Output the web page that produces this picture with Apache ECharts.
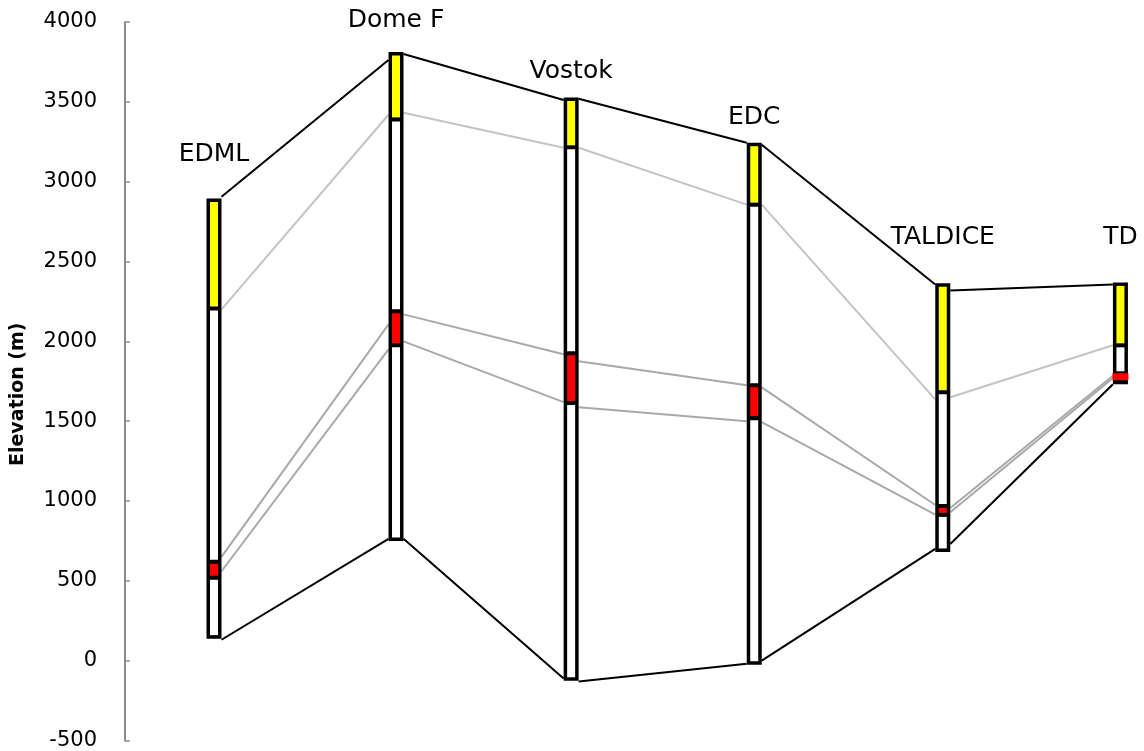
<!DOCTYPE html>
<html>
<head>
<meta charset="utf-8">
<script src="https://cdn.jsdelivr.net/npm/echarts@6/dist/echarts.min.js"></script>
<style>
  html, body { margin: 0; padding: 0; background: #fff; }
  #chart { width: 1144px; height: 751px; }
</style>
</head>
<body>
<div id="chart"></div>
<script>
// cores along the transect
const cores = ['EDML', 'Dome F', 'Vostok', 'EDC', 'TALDICE', 'TD'];
const coreX = [0, 1.004, 1.97, 2.98, 4.02, 5];

// elevations of each core (m)
const topElev = [2895, 3812, 3527, 3244, 2363, 2369];
const yellowBase = [2205, 3390, 3215, 2856, 1681, 1975];
const redTop = [619, 2188, 1925, 1725, 969, 1800];
const redBase = [519, 1975, 1613, 1519, 913, 1756];
const bottomElev = [138, 750, -125, -25, 681, 1731];
const labelElev = [3169, 4012, 3687, 3400, 2650, 2650];

// links between neighbouring cores: [left end, right end]
const outlineTop = [[2906, 3762], [3800, 3512], [3519, 3244], [3231, 2356], [2319, 2356]];
const outlineBottom = [[131, 763], [763, -112], [-131, -19], [0, 700], [731, 1731]];
const yellowLink = [[2200, 3419], [3431, 3212], [3212, 2856], [2856, 1637], [1650, 1975]];
const redTopLink = [[650, 2106], [2169, 1919], [1875, 1725], [1712, 975], [956, 1785]];
const redBaseLink = [[560, 1950], [2000, 1619], [1587, 1500], [1494, 915], [930, 1770]];

const yTicks = { min: -500, max: 4000, interval: 500 };

const chart = echarts.init(document.getElementById('chart'));

// build link items: [x1, v1, x2, v2, kind]
const linkData = [];
[outlineTop, outlineBottom, yellowLink, redTopLink, redBaseLink].forEach((set, k) => {
  set.forEach((pair, i) => {
    const kind = k < 2 ? 0 : (k === 2 ? 1 : 2);
    linkData.push([coreX[i], pair[0], coreX[i + 1], pair[1], kind]);
  });
});

const coreData = cores.map((c, i) => [coreX[i], topElev[i], yellowBase[i], redTop[i], redBase[i], bottomElev[i]]);
const labelData = cores.map((c, i) => [coreX[i], labelElev[i], i]);

const linkColors = ['#000000', '#c4c4c4', '#a9a9a9'];
const halfW = 7.5;

const option = {
  animation: false,
  backgroundColor: '#ffffff',
  grid: { left: 125, right: 0, top: 22, bottom: 9 },
  xAxis: { type: 'value', min: -0.491, max: 5.13, show: false },
  yAxis: {
    type: 'value',
    min: yTicks.min,
    max: yTicks.max,
    interval: yTicks.interval,
    name: 'Elevation (m)',
    nameLocation: 'middle',
    nameRotate: 90,
    nameGap: 97,
    nameTextStyle: { fontFamily: 'DejaVu Sans', fontWeight: 'bold', fontSize: 19, color: '#000', padding: [0, 26, 0, 0] },
    axisLine: { show: true, onZero: false, lineStyle: { color: '#8c8c8c', width: 2 } },
    axisTick: { show: true, inside: true, length: 5, lineStyle: { color: '#8c8c8c', width: 1.5 } },
    axisLabel: { margin: 28, fontFamily: 'DejaVu Sans', fontSize: 21, color: '#000', formatter: v => String(v) },
    splitLine: { show: false }
  },
  series: [
    {
      type: 'custom',
      name: 'links',
      z: 1,
      encode: { x: [0, 2], y: [1, 3] },
      data: linkData,
      renderItem: (params, api) => {
        const p1 = api.coord([api.value(0), api.value(1)]);
        const p2 = api.coord([api.value(2), api.value(3)]);
        const kind = api.value(4);
        return {
          type: 'line',
          shape: { x1: p1[0] + halfW, y1: p1[1], x2: p2[0] - halfW, y2: p2[1] },
          style: { stroke: linkColors[kind], lineWidth: 2 }
        };
      }
    },
    {
      type: 'custom',
      name: 'cores',
      z: 3,
      encode: { x: 0, y: [1, 5] },
      data: coreData,
      renderItem: (params, api) => {
        const x = api.value(0);
        const pTop = api.coord([x, api.value(1)]);
        const yYb = api.coord([x, api.value(2)])[1];
        const yRt = api.coord([x, api.value(3)])[1];
        const yRb = api.coord([x, api.value(4)])[1];
        const yBot = api.coord([x, api.value(5)])[1];
        const cx = pTop[0], yTop = pTop[1];
        const b = 3.5, d = 2;
        const rect = (x0, y0, w, h, fill) => ({
          type: 'rect',
          shape: { x: x0, y: y0, width: w, height: Math.max(h, 0) },
          style: { fill: fill }
        });
        const inner = (y0, y1, fill) => rect(cx - halfW + b, y0, 2 * (halfW - b), y1 - y0, fill);
        const children = [
          rect(cx - halfW, yTop, 2 * halfW, yBot - yTop, '#000'),
          inner(yTop + b, yYb - d, '#ffff00'),
          inner(yYb + d, yRt - d, '#ffffff'),
          inner(yRb + d, yBot - b, '#ffffff')
        ];
        // thin red bands cover the full core width
        if (yRb - yRt < 8) {
          children.push(rect(cx - halfW - 0.5, yRt, 2 * halfW + 1, yRb - yRt, '#ff0000'));
        } else {
          children.push(inner(yRt + d, yRb - d, '#ff0000'));
        }
        return { type: 'group', children: children };
      }
    },
    {
      type: 'custom',
      name: 'labels',
      z: 4,
      clip: false,
      silent: true,
      encode: { x: 0, y: 1 },
      data: labelData,
      renderItem: (params, api) => {
        const p = api.coord([api.value(0), api.value(1)]);
        return {
          type: 'text',
          x: p[0],
          y: p[1],
          style: {
            text: cores[api.value(2)],
            fill: '#000',
            font: '25px "DejaVu Sans"',
            align: 'center',
            verticalAlign: 'middle'
          }
        };
      }
    }
  ]
};

chart.setOption(option);
</script>
</body>
</html>
